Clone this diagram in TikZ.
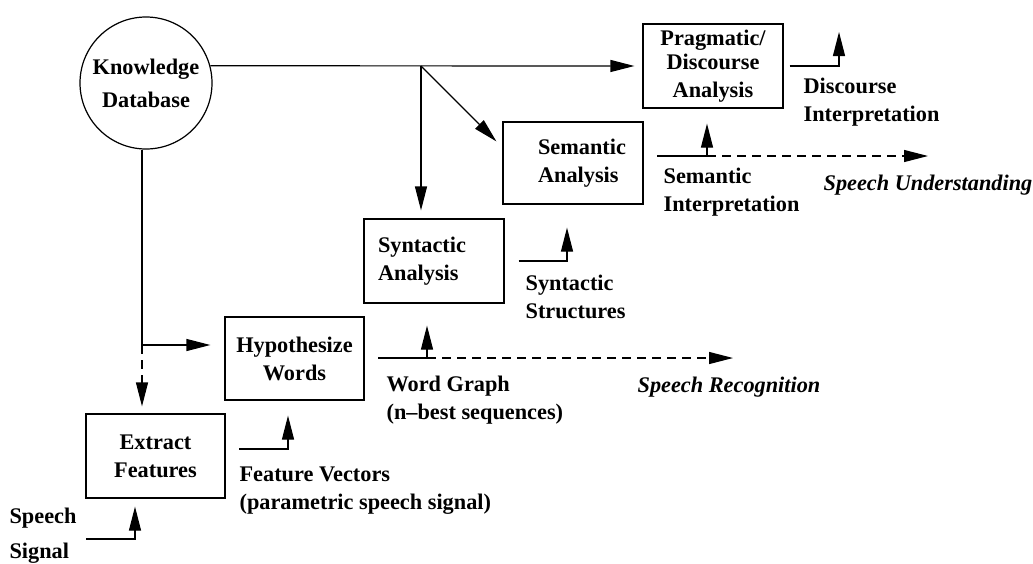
\documentclass[tikz,border=0pt]{standalone}
\usepackage{fontspec}
\setmainfont{Liberation Serif}
\usetikzlibrary{arrows.meta,calc}
\begin{document}
\begin{tikzpicture}[x=1pt,y=-1pt,
  line width=1.2pt,
  every node/.style={font=\fontsize{22.3}{28}\selectfont\bfseries, inner sep=0pt},
  stage/.style={draw, minimum width=140pt, minimum height=84pt, align=center},
  lbl/.style={anchor=west, align=left},
  ital/.style={font=\fontsize{22.3}{28}\selectfont\bfseries\itshape},
  arr/.style={-{Triangle[length=24pt,width=12pt]}},
  dashline/.style={dash pattern=on 9pt off 6pt},
]
\useasboundingbox (0,0) rectangle (1033,563);

% processing stages
\node[draw, circle, minimum size=132pt, align=center,
      font=\fontsize{22.3}{33}\selectfont\bfseries] (kb) at (146,83) {Knowledge\\Database};
\node[stage] (prag) at (713,66) {Pragmatic/\\[-4.5pt]Discourse\\Analysis};
\node[stage, minimum height=82pt, align=left] (sem) at (573,163)
     {\hspace*{18pt}Semantic\\\hspace*{18pt}Analysis};
\node[stage, text width=112pt, align=left] (syn) at (434,261) {Syntactic\\Analysis};
\node[stage, minimum width=139pt, minimum height=83pt] (hyp) at (294.5,358.5) {Hypothesize\\Words};
\node[stage, minimum width=139pt] (ext) at (155.5,456) {Extract\\Features};

% junctions and free ends
\coordinate (br) at (421,66);
\coordinate (kbj) at (142,345);
\coordinate (sig) at (86,539);
\coordinate (fv) at (239,449);
\coordinate (wg) at (378,358);
\coordinate (wgj) at (427,358);
\coordinate (sr) at (733,358);
\coordinate (si) at (657,156);
\coordinate (sij) at (707,156);
\coordinate (su) at (928,156);
\coordinate (di) at (839,32);

% knowledge feeds
\draw[arr, shorten >=8pt] (kb.15) -- (prag.west);
\draw[arr, shorten >=8pt] (br) -- (br |- syn.north);
\draw[arr] (br) -- ([xshift=-6pt,yshift=-20pt]sem.north west);
\draw (kbj |- kb.south) -- (kbj);
\draw[arr, shorten >=14pt] (kbj) -- (kbj -| hyp.west);
\draw[arr, dashline, shorten >=7pt] (kbj) -- (kbj |- ext.north);

% data flow between stages
\draw[arr] (sig) -| ([xshift=-20.5pt,yshift=-8pt]ext.south);
\draw[arr] (fv) -| ([xshift=-6.5pt,yshift=-15pt]hyp.south);
\draw (wg) -- (wgj);
\draw[arr] (wgj) -- ([xshift=-7pt,yshift=-22pt]syn.south);
\draw[arr, dashline] (wgj) -- (sr);
\draw[arr] ([xshift=14pt]syn.east) -| ([xshift=-6pt,yshift=-23pt]sem.south);
\draw (si) -- (sij);
\draw[arr] (sij) -- ([xshift=-6pt,yshift=-15pt]prag.south);
\draw[arr, dashline] (sij) -- (su);
\draw[arr] ([xshift=6pt]prag.east) -| (di);

% labels
\node[lbl] (dil) at (803,102) {Discourse\\Interpretation};
\node[lbl] (sil) at (663,192) {Semantic\\Interpretation};
\node[lbl, ital] (sul) at (823,185) {Speech Understanding};
\node[lbl] (ssl) at (525,297) {Syntactic\\Structures};
\node[lbl] (wgl) at (386,400) {Word Graph\\(n--best sequences)};
\node[lbl, ital] (srl) at (637,387) {Speech Recognition};
\node[lbl] (fvl) at (239,491) {Feature Vectors\\(parametric speech signal)};
\node[lbl, font=\fontsize{22.3}{35}\selectfont\bfseries] (ssig) at (9,536) {Speech\\Signal};
\end{tikzpicture}
\end{document}
